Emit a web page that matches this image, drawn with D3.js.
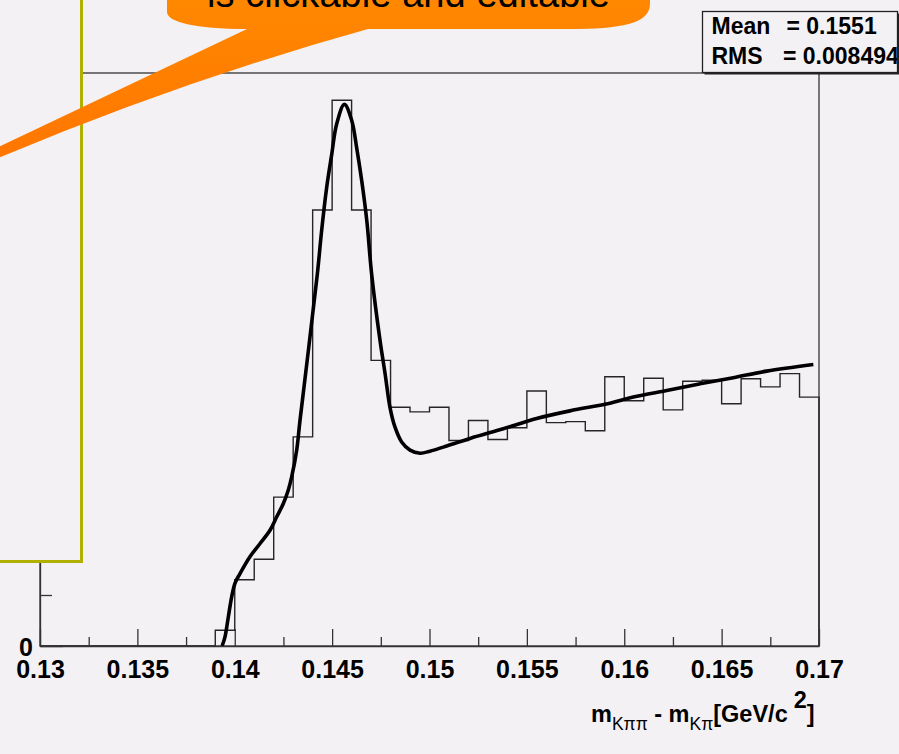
<!DOCTYPE html>
<html>
<head>
<meta charset="utf-8">
<script src="https://cdn.jsdelivr.net/npm/d3@7"></script>
<style>
  html, body { margin: 0; padding: 0; background: #f4f1f5; }
  svg { display: block; }
</style>
</head>
<body>
<svg id="chart" width="899" height="754"></svg>
<script>
// Histogram of m(Kpipi) - m(Kpi): 40 bins of 0.001 GeV/c^2 from 0.13 to 0.17
const binLow = 0.13;
const binWidth = 0.001;
const binCounts = [
  0, 0, 0, 0, 0, 0, 0, 0, 0, 3.1,
  13, 17, 29.2, 41, 85.5, 107, 85.5, 56, 46.8, 45.9,
  46.8, 40.3, 44.2, 40.5, 42.8, 50, 43.8, 44, 42.2, 52.8,
  48.1, 52.5, 46.3, 51.9, 52.1, 47.5, 52.4, 50.8, 53.4, 48.8
];

// Fitted function, sampled along the curve
const fitX = [0.13935, 0.13950, 0.13967, 0.13984, 0.14001, 0.14027, 0.14078, 0.14130,
  0.14181, 0.14215, 0.14249, 0.14275, 0.14292, 0.14318, 0.14335, 0.14424, 0.14446,
  0.14472, 0.14498, 0.14523, 0.14563, 0.14601, 0.14626, 0.14652, 0.14678, 0.14703,
  0.14746, 0.14772, 0.14797, 0.14823, 0.14857, 0.14900, 0.14951, 0.15003, 0.15071,
  0.15208, 0.15379, 0.15550, 0.15721, 0.15927, 0.16046, 0.16218, 0.16389, 0.16560,
  0.16731, 0.16971];
const fitY = [0, 1.8, 5.7, 9.6, 12.3, 14.2, 17.5, 20.1,
  22.7, 25.3, 27.9, 30.6, 33.1, 38.4, 44.2, 72.9, 81.4,
  89.9, 96.4, 102.3, 106.2, 103.0, 97.7, 91.2, 83.4, 72.9,
  59.9, 53.4, 46.8, 42.9, 40.0, 38.4, 37.8, 38.2, 39.0,
  40.7, 42.6, 44.6, 46.1, 47.6, 48.8, 50.1, 51.4, 52.6,
  53.9, 55.2];

// Axis ticks
const xMajorTicks = [0.13, 0.135, 0.14, 0.145, 0.15, 0.155, 0.16, 0.165, 0.17];
const xTickLabels = ["0.13", "0.135", "0.14", "0.145", "0.15", "0.155", "0.16", "0.165", "0.17"];
const xMinorTicks = [0.1325, 0.1375, 0.1425, 0.1475, 0.1525, 0.1575, 0.1625, 0.1675];
const yMajorTicks = [0, 50, 100];
const yMinorTicks = [10, 20, 30, 40, 60, 70, 80, 90, 110];

// Statistics box
const statNames = ["Mean", "RMS"];
const statValues = ["= 0.1551", "= 0.008494"];

const calloutText = "is clickable and editable";

const bg = "#f4f1f5";
const svg = d3.select("#chart");

svg.append("rect").attr("width", 899).attr("height", 754).attr("fill", bg);

const frame = { left: 40, right: 819, top: 73, bottom: 646 };
const yMax = 1.05 * d3.max(binCounts);

const x = d3.scaleLinear().domain([binLow, binLow + binWidth * binCounts.length])
  .range([frame.left, frame.right]);
const y = d3.scaleLinear().domain([0, yMax]).range([frame.bottom, frame.top]);

// Frame
svg.append("rect")
  .attr("x", frame.left).attr("y", frame.top)
  .attr("width", frame.right - frame.left).attr("height", frame.bottom - frame.top)
  .attr("fill", "none").attr("stroke", "#333").attr("stroke-width", 1.3);

// Histogram outline
const stepPts = [[binLow, 0]];
binCounts.forEach((c, i) => {
  stepPts.push([binLow + i * binWidth, c]);
  stepPts.push([binLow + (i + 1) * binWidth, c]);
});
stepPts.push([binLow + binCounts.length * binWidth, 0]);
svg.append("path")
  .datum(stepPts)
  .attr("d", d3.line().x(d => x(d[0])).y(d => y(d[1])))
  .attr("fill", "none").attr("stroke", "#262626").attr("stroke-width", 1.4);

// Fit curve
svg.append("path")
  .datum(fitX.map((v, i) => [v, fitY[i]]))
  .attr("d", d3.line().x(d => x(d[0])).y(d => y(d[1])).curve(d3.curveCatmullRom.alpha(0.5)))
  .attr("fill", "none").attr("stroke", "#000").attr("stroke-width", 3.6)
  .attr("stroke-linejoin", "round");

// X axis
const fontBold = "'Liberation Sans', Arial, Helvetica, sans-serif";
const xAxis = d3.axisBottom(x)
  .tickValues(xMajorTicks)
  .tickFormat((d, i) => xTickLabels[i])
  .tickSizeInner(-17).tickSizeOuter(0).tickPadding(14);
const gx = svg.append("g").attr("transform", `translate(0,${frame.bottom})`).call(xAxis);
gx.select(".domain").attr("stroke", "#333").attr("stroke-width", 1.3);
gx.selectAll(".tick line").attr("stroke", "#333").attr("stroke-width", 1.3);
gx.selectAll("text").attr("font-family", fontBold).attr("font-weight", "bold")
  .attr("font-size", 25).attr("fill", "#000");

const xMinor = d3.axisBottom(x).tickValues(xMinorTicks).tickFormat("").tickSize(-9);
const gxm = svg.append("g").attr("transform", `translate(0,${frame.bottom})`).call(xMinor);
gxm.select(".domain").remove();
gxm.selectAll(".tick line").attr("stroke", "#333").attr("stroke-width", 1.3);

// Y axis
const yAxis = d3.axisLeft(y).tickValues(yMajorTicks).tickFormat(d3.format("d"))
  .tickSizeInner(-23).tickSizeOuter(0).tickPadding(7);
const gy = svg.append("g").attr("transform", `translate(${frame.left},0)`).call(yAxis);
gy.select(".domain").attr("stroke", "#333").attr("stroke-width", 1.3);
gy.selectAll(".tick line").attr("stroke", "#333").attr("stroke-width", 1.3);
gy.selectAll("text").attr("font-family", fontBold).attr("font-weight", "bold")
  .attr("font-size", 25).attr("fill", "#000").attr("dy", "0.38em");

const yMinor = d3.axisLeft(y).tickValues(yMinorTicks).tickFormat("").tickSize(-12);
const gym = svg.append("g").attr("transform", `translate(${frame.left},0)`).call(yMinor);
gym.select(".domain").remove();
gym.selectAll(".tick line").attr("stroke", "#333").attr("stroke-width", 1.3);

// Axis title: m_{Kpipi} - m_{Kpi}[GeV/c^{2}]
const title = svg.append("text")
  .attr("x", 591).attr("y", 722)
  .attr("font-family", fontBold).attr("font-size", 23.5).attr("font-weight", "bold")
  .attr("fill", "#000");
title.append("tspan").text("m");
title.append("tspan").attr("font-size", 17.5).attr("font-weight", "normal").attr("dy", 8).text("Kππ");
title.append("tspan").attr("dy", -8).text(" - m");
title.append("tspan").attr("font-size", 17.5).attr("font-weight", "normal").attr("dy", 8).text("Kπ");
title.append("tspan").attr("dy", -8).text("[GeV/c");
title.append("tspan").attr("dy", -14).attr("dx", 6).text("2");
title.append("tspan").attr("dy", 14).attr("dx", 0).text("]");

// Yellow-edged pad on the left, drawn over the axis
svg.append("rect")
  .attr("x", -10).attr("y", -10).attr("width", 91.5).attr("height", 571.5)
  .attr("fill", bg).attr("stroke", "#b0b000").attr("stroke-width", 3);

// Statistics box
const sb = { x: 702.5, y: 11.5, w: 195, h: 61 };
svg.append("rect").attr("x", sb.x + 2).attr("y", sb.y + 2).attr("width", sb.w).attr("height", sb.h)
  .attr("fill", "#222");
svg.append("rect").attr("x", sb.x).attr("y", sb.y).attr("width", sb.w).attr("height", sb.h)
  .attr("fill", bg).attr("stroke", "#222").attr("stroke-width", 1.3);
svg.append("clipPath").attr("id", "statsClip")
  .append("rect").attr("x", sb.x).attr("y", sb.y).attr("width", sb.w - 0.5).attr("height", sb.h);
const gs = svg.append("g").attr("clip-path", "url(#statsClip)")
  .attr("font-family", fontBold).attr("font-weight", "bold").attr("font-size", 23).attr("fill", "#000");
const statEqX = [786.5, 783];
statNames.forEach((n, i) => {
  gs.append("text").attr("x", 711.5).attr("y", 34 + i * 30).text(n);
  gs.append("text").attr("x", statEqX[i]).attr("y", 34 + i * 30).text(statValues[i]);
});

// Orange callout
const defs = svg.append("defs");
const grad = defs.append("linearGradient").attr("id", "calloutFill")
  .attr("gradientUnits", "userSpaceOnUse").attr("x1", 0).attr("y1", 0).attr("x2", 0).attr("y2", 175);
grad.append("stop").attr("offset", 0).attr("stop-color", "#ff8800");
grad.append("stop").attr("offset", 1).attr("stop-color", "#ff7400");

const bubble = d3.path();
bubble.moveTo(167, -40);
bubble.lineTo(650, -40);
bubble.lineTo(650, 4);
bubble.bezierCurveTo(650, 24, 620, 29, 570, 29);
bubble.lineTo(368, 29);
bubble.quadraticCurveTo(170, 84, -30, 170);
bubble.lineTo(-30, 160.5);
bubble.lineTo(247, 29);
bubble.bezierCurveTo(195, 29, 167, 22, 167, 12);
bubble.closePath();
svg.append("path").attr("d", bubble.toString()).attr("fill", "url(#calloutFill)");

svg.append("text")
  .attr("x", 207).attr("y", 7)
  .attr("font-family", "'Liberation Sans', Arial, Helvetica, sans-serif")
  .attr("font-size", 38).attr("textLength", 403).attr("fill", "#000")
  .text(calloutText);
</script>
</body>
</html>
